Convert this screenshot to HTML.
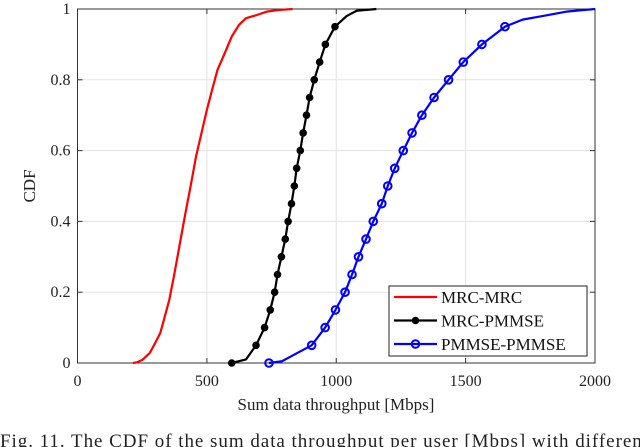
<!DOCTYPE html>
<html><head><meta charset="utf-8"><style>
body{margin:0;background:#fff;width:640px;height:447px;overflow:hidden}
svg{display:block;font-family:"Liberation Serif",serif}
</style></head><body>
<svg id="chart" width="640" height="447" viewBox="0 0 640 447" xmlns="http://www.w3.org/2000/svg"></svg>
<script>
const xTicks=[0,500,1000,1500,2000];
const yTicks=[0,0.2,0.4,0.6,0.8,1];
const yTickLabels=["0","0.2","0.4","0.6","0.8","1"];
const redX=[214,231,251,279,300,320,334,355,375,396,417,438,458,479,500,520,541,569,596,624,651,693,734,776,831];
const redY=[0,0.002,0.009,0.028,0.056,0.085,0.122,0.179,0.254,0.339,0.423,0.503,0.583,0.649,0.715,0.771,0.828,0.875,0.922,0.955,0.974,0.983,0.993,0.997,1];
const blackMX=[596,690,723,745,762,773,788,803,814,827,838,847,861,872,885,897,915,936,958,995];
const blackMY=[0,0.05,0.1,0.15,0.2,0.25,0.3,0.35,0.4,0.45,0.5,0.55,0.6,0.65,0.7,0.75,0.8,0.85,0.9,0.95];
const blackLX=[596,651,690,723,745,762,773,788,803,814,827,838,847,861,872,885,897,915,936,958,995,1040,1079,1155];
const blackLY=[0,0.01,0.05,0.1,0.15,0.2,0.25,0.3,0.35,0.4,0.45,0.5,0.55,0.6,0.65,0.7,0.75,0.8,0.85,0.9,0.95,0.98,0.995,1];
const blueMX=[740,905,957,997,1034,1061,1086,1115,1143,1176,1199,1226,1259,1293,1331,1378,1434,1491,1563,1652];
const blueMY=[0,0.05,0.1,0.15,0.2,0.25,0.3,0.35,0.4,0.45,0.5,0.55,0.6,0.65,0.7,0.75,0.8,0.85,0.9,0.95];
const blueLX=[740,790,905,957,997,1034,1061,1086,1115,1143,1176,1199,1226,1259,1293,1331,1378,1434,1491,1563,1652,1720,1797,1894,2000];
const blueLY=[0,0.005,0.05,0.1,0.15,0.2,0.25,0.3,0.35,0.4,0.45,0.5,0.55,0.6,0.65,0.7,0.75,0.8,0.85,0.9,0.95,0.97,0.98,0.993,1];

const svg=document.getElementById('chart');
const NS="http://www.w3.org/2000/svg";
const X0=77.5,X1=595,Y0=363,Y1=9;
const sx=v=>X0+(v-0)/2000*(X1-X0);
const sy=v=>Y0-v*(Y0-Y1);
function mk(tag,attrs,parent){const e=document.createElementNS(NS,tag);for(const k in attrs)e.setAttribute(k,attrs[k]);(parent||svg).appendChild(e);return e;}

const grid=mk('g',{});


xTicks.forEach(t=>{const l=mk('line',{x1:sx(t),x2:sx(t),y1:Y0,y2:Y1,stroke:'#e3e3e3','stroke-width':1},grid);});
yTicks.forEach(t=>{const l=mk('line',{x1:X0,x2:X1,y1:sy(t),y2:sy(t),stroke:'#e3e3e3','stroke-width':1},grid);});

const frame=mk('rect',{x:X0,y:Y1,width:X1-X0,height:Y0-Y1,fill:'none',stroke:'#333','stroke-width':1});



xTicks.forEach(t=>{
  mk('line',{x1:sx(t),x2:sx(t),y1:Y0,y2:Y0-5,stroke:'#333'});
  mk('line',{x1:sx(t),x2:sx(t),y1:Y1,y2:Y1+5,stroke:'#333'});
  const tx=mk('text',{x:sx(t),y:386,'text-anchor':'middle','font-size':16,fill:'#222'});tx.textContent=t;
  
  
});
yTicks.forEach((t,i)=>{
  mk('line',{x1:X0,x2:X0+5,y1:sy(t),y2:sy(t),stroke:'#333'});
  mk('line',{x1:X1,x2:X1-5,y1:sy(t),y2:sy(t),stroke:'#333'});
  const tx=mk('text',{x:X0-7,y:sy(t)+5,'text-anchor':'end','font-size':16,fill:'#222'});tx.textContent=yTickLabels[i];
  
  
});
const xl=mk('text',{x:336,y:410,'text-anchor':'middle','font-size':17,fill:'#222'});xl.textContent='Sum data throughput [Mbps]';


const yl=mk('text',{x:0,y:0,'text-anchor':'middle','font-size':17,fill:'#222',transform:'translate(35,186) rotate(-90)'});yl.textContent='CDF';



function line(xs,ys,color,name){
  const p=mk('polyline',{points:xs.map((x,i)=>sx(x)+','+sy(ys[i])).join(' '),fill:'none',stroke:color,'stroke-width':2.2,'stroke-linejoin':'round'});
  
  
}
line(redX,redY,'#ff0000','mrc-mrc-line');
line(blackLX,blackLY,'#000','mrc-pmmse-line');
line(blueLX,blueLY,'#0000ff','pmmse-pmmse-line');
blackMX.forEach((x,i)=>{const c=mk('circle',{cx:sx(x),cy:sy(blackMY[i]),r:3.8,fill:'#000'});});
blueMX.forEach((x,i)=>{const c=mk('circle',{cx:sx(x),cy:sy(blueMY[i]),r:3.8,fill:'none',stroke:'#0000ff','stroke-width':2});});

const lg=mk('g',{});


mk('rect',{x:389,y:286,width:198,height:70,fill:'#fff',stroke:'#222','stroke-width':1},lg);
const entries=[['MRC-MRC','#ff0000',null],['MRC-PMMSE','#000','fill'],['PMMSE-PMMSE','#0000ff','open']];
entries.forEach((e,i)=>{
  const y=297+i*23.5;
  const g=mk('g',{},lg);
  
  
  mk('line',{x1:394,x2:437,y1:y,y2:y,stroke:e[1],'stroke-width':2.2},g);
  if(e[2]==='fill')mk('circle',{cx:415.5,cy:y,r:3.8,fill:e[1]},g);
  if(e[2]==='open')mk('circle',{cx:415.5,cy:y,r:3.8,fill:'none',stroke:e[1],'stroke-width':2},g);
  const t=mk('text',{x:441,y:y+6,'font-size':17,fill:'#111'},g);t.textContent=e[0];
});
const cap=mk('text',{x:0,y:447,'font-size':19,fill:'#222',textLength:648,lengthAdjust:'spacing'});cap.textContent='Fig. 11.  The CDF of the sum data throughput per user [Mbps] with different';


</script>
</body></html>
